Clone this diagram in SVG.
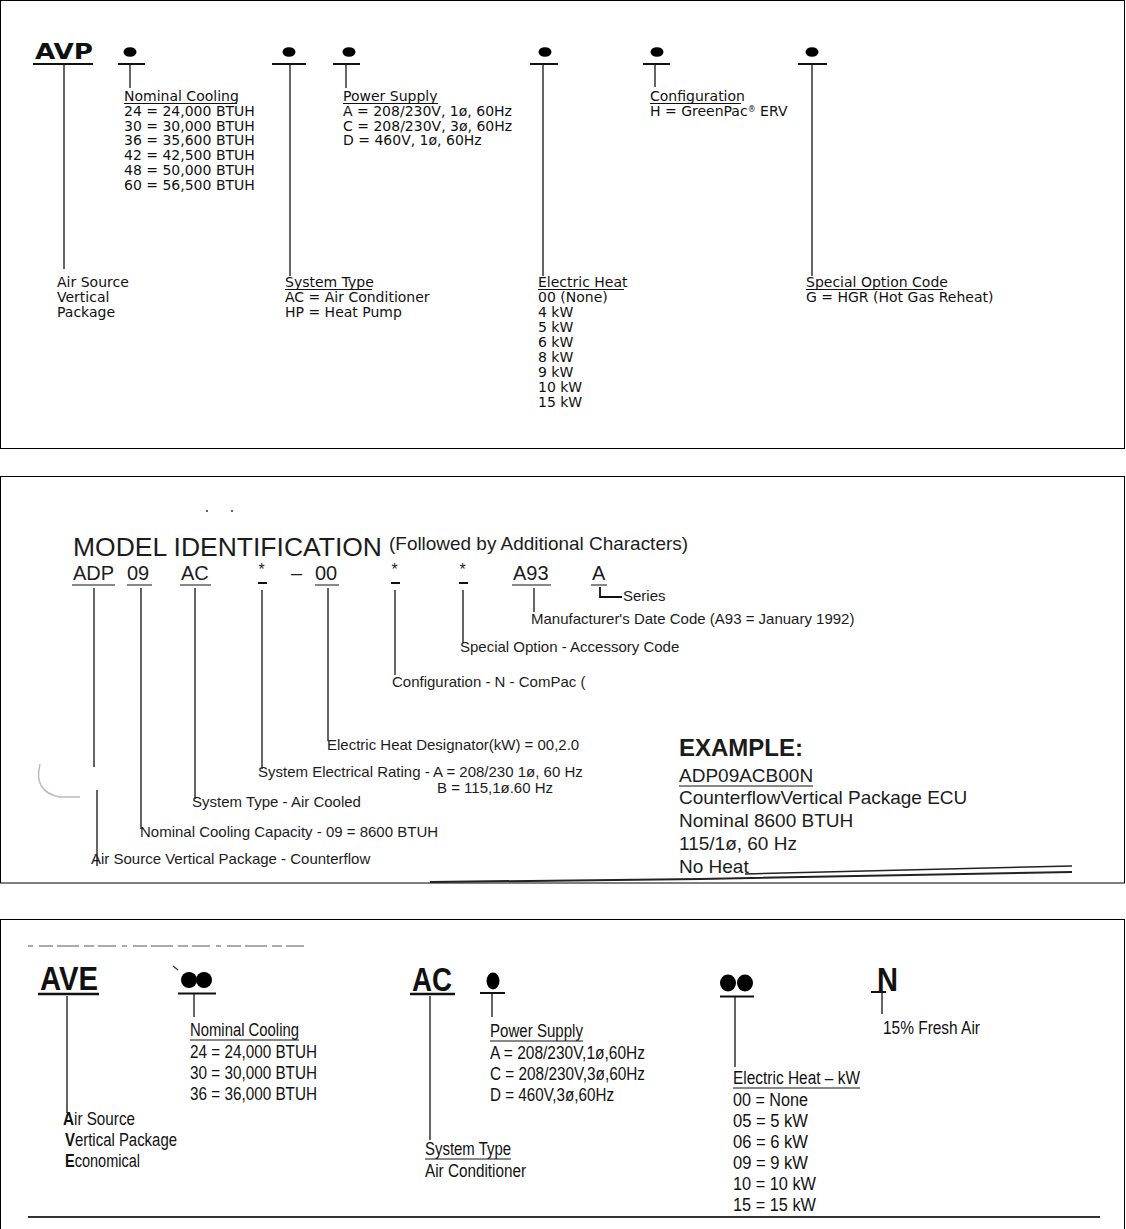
<svg xmlns="http://www.w3.org/2000/svg" width="1126" height="1229" viewBox="0 0 1126 1229">
<style>
.frame{fill:#fff;stroke:#000;stroke-width:1}
.p1{font-family:"DejaVu Sans",Verdana,sans-serif;font-size:14px;fill:#111}
.p1b{font-family:"DejaVu Sans",Verdana,sans-serif;font-size:21px;font-weight:bold;fill:#111}
.p2{font-family:"Liberation Sans",Arial,sans-serif;font-size:15px;fill:#1c1c1c}
.p2t{font-family:"Liberation Sans",Arial,sans-serif;font-size:26px;fill:#1c1c1c}
.p2s{font-family:"Liberation Sans",Arial,sans-serif;font-size:19px;fill:#1c1c1c}
.p2star{font-family:"Liberation Sans",Arial,sans-serif;font-size:16px;fill:#1c1c1c}
.p2c{font-family:"Liberation Sans",Arial,sans-serif;font-size:20px;fill:#1c1c1c}
.p2e{font-family:"Liberation Sans",Arial,sans-serif;font-size:19px;fill:#1c1c1c}
.p2h{font-family:"Liberation Sans",Arial,sans-serif;font-size:24px;font-weight:bold;fill:#1c1c1c}
.p3{font-family:"Liberation Sans",Arial,sans-serif;font-size:18px;fill:#111}
.p3b{font-family:"Liberation Sans",Arial,sans-serif;font-size:33px;font-weight:bold;fill:#111}
.ln{stroke:#111;stroke-width:1.3;fill:none}
.ul{stroke:#111;stroke-width:1;fill:none}
.bar{stroke:#111;stroke-width:2;fill:none}
.dot{fill:#000}
</style>

<!-- frames -->
<rect class="frame" x="0.5" y="0.5" width="1124" height="448"/>
<rect class="frame" x="0.5" y="476.5" width="1124" height="406.5"/>
<rect class="frame" x="0.5" y="919.5" width="1124" height="1308"/>

<!-- ================= PANEL 1 ================= -->
<g id="p1-connectors">
  <line class="ln" x1="64" y1="65" x2="64" y2="269"/>
  <line class="ln" x1="130" y1="65" x2="130" y2="88"/>
  <line class="ln" x1="290" y1="65" x2="290" y2="276"/>
  <line class="ln" x1="346" y1="65" x2="346" y2="88"/>
  <line class="ln" x1="543" y1="65" x2="543" y2="276"/>
  <line class="ln" x1="655" y1="65" x2="655" y2="87"/>
  <line class="ln" x1="812" y1="65" x2="812" y2="276"/>
</g>

<g id="p1-avp">
  <text class="p1b" x="35" y="59" textLength="58" lengthAdjust="spacingAndGlyphs">AVP</text>
  <line class="bar" x1="33" y1="64" x2="93" y2="64"/>
</g>

<g id="p1-cooling">
  <ellipse class="dot" cx="130" cy="52" rx="6.5" ry="4.8"/>
  <line class="bar" x1="118" y1="64" x2="145" y2="64"/>
  <text class="p1" x="124" y="101">Nominal Cooling</text>
  <line class="ul" x1="124" y1="103.5" x2="237" y2="103.5"/>
  <text class="p1" x="124" y="115.8">24 = 24,000 BTUH</text>
  <text class="p1" x="124" y="130.6">30 = 30,000 BTUH</text>
  <text class="p1" x="124" y="145.4">36 = 35,600 BTUH</text>
  <text class="p1" x="124" y="160.2">42 = 42,500 BTUH</text>
  <text class="p1" x="124" y="175">48 = 50,000 BTUH</text>
  <text class="p1" x="124" y="189.8">60 = 56,500 BTUH</text>
</g>

<g id="p1-systype">
  <ellipse class="dot" cx="289" cy="52" rx="6.5" ry="4.8"/>
  <line class="bar" x1="272" y1="64" x2="306" y2="64"/>
  <text class="p1" x="285" y="287">System Type</text>
  <line class="ul" x1="285" y1="289.5" x2="372" y2="289.5"/>
  <text class="p1" x="285" y="302">AC = Air Conditioner</text>
  <text class="p1" x="285" y="317">HP = Heat Pump</text>
</g>

<g id="p1-power">
  <ellipse class="dot" cx="349" cy="52" rx="6.5" ry="4.8"/>
  <line class="bar" x1="333" y1="64" x2="360" y2="64"/>
  <text class="p1" x="343" y="101">Power Supply</text>
  <line class="ul" x1="343" y1="103.5" x2="438" y2="103.5"/>
  <text class="p1" x="343" y="115.8">A = 208/230V, 1ø, 60Hz</text>
  <text class="p1" x="343" y="130.6">C = 208/230V, 3ø, 60Hz</text>
  <text class="p1" x="343" y="145.4">D = 460V, 1ø, 60Hz</text>
</g>

<g id="p1-heat">
  <ellipse class="dot" cx="545" cy="52" rx="6.5" ry="4.8"/>
  <line class="bar" x1="530" y1="64" x2="558" y2="64"/>
  <text class="p1" x="538" y="287">Electric Heat</text>
  <line class="ul" x1="538" y1="289.5" x2="624" y2="289.5"/>
  <text class="p1" x="538" y="302">00 (None)</text>
  <text class="p1" x="538" y="317">4 kW</text>
  <text class="p1" x="538" y="332">5 kW</text>
  <text class="p1" x="538" y="347">6 kW</text>
  <text class="p1" x="538" y="362">8 kW</text>
  <text class="p1" x="538" y="377">9 kW</text>
  <text class="p1" x="538" y="392">10 kW</text>
  <text class="p1" x="538" y="407">15 kW</text>
</g>

<g id="p1-config">
  <ellipse class="dot" cx="657" cy="52" rx="6.5" ry="4.8"/>
  <line class="bar" x1="643" y1="64" x2="670" y2="64"/>
  <text class="p1" x="650" y="101">Configuration</text>
  <line class="ul" x1="650" y1="103.5" x2="741" y2="103.5"/>
  <text class="p1" x="650" y="115.8">H = GreenPac<tspan style="font-size:8px" dy="-4">®</tspan><tspan dy="4"> ERV</tspan></text>
</g>

<g id="p1-option">
  <ellipse class="dot" cx="812" cy="52" rx="6.5" ry="4.8"/>
  <line class="bar" x1="798" y1="64" x2="827" y2="64"/>
  <text class="p1" x="806" y="287">Special Option Code</text>
  <line class="ul" x1="806" y1="289.5" x2="943" y2="289.5"/>
  <text class="p1" x="806" y="302">G = HGR (Hot Gas Reheat)</text>
</g>

<g id="p1-airsource">
  <text class="p1" x="57" y="287">Air Source</text>
  <text class="p1" x="57" y="302">Vertical</text>
  <text class="p1" x="57" y="317">Package</text>
</g>

<!-- ================= PANEL 2 ================= -->
<g id="p2-artifacts">
  <circle cx="207" cy="511" r="1" fill="#333"/>
  <circle cx="232" cy="511" r="1" fill="#333"/>
  <path d="M 40 764 Q 33 792 60 797 L 80 797" stroke="#bbb" stroke-width="1.5" fill="none"/>
  <path d="M 430 882 L 700 879 L 1072 872" stroke="#222" stroke-width="2" fill="none"/>
  <path d="M 745 874 L 1072 866" stroke="#222" stroke-width="1.5" fill="none"/>
</g>

<g id="p2-title">
  <text class="p2t" x="73" y="556" textLength="309" lengthAdjust="spacingAndGlyphs">MODEL IDENTIFICATION</text>
  <text class="p2s" x="389" y="550" textLength="299" lengthAdjust="spacingAndGlyphs">(Followed by Additional Characters)</text>
</g>

<g id="p2-code">
  <text class="p2c" x="73" y="580">ADP</text>
  <line class="ul" x1="72" y1="585" x2="115" y2="585" stroke-width="1.5"/>
  <text class="p2c" x="127" y="580">09</text>
  <line class="ul" x1="127" y1="585" x2="152" y2="585" stroke-width="1.5"/>
  <text class="p2c" x="181" y="580">AC</text>
  <line class="ul" x1="180" y1="585" x2="211" y2="585" stroke-width="1.5"/>
  <text class="p2star" x="258.5" y="575">*</text>
  <line class="bar" x1="258" y1="583" x2="267" y2="583"/>
  <text class="p2c" x="291" y="580">–</text>
  <text class="p2c" x="315" y="580">00</text>
  <line class="ul" x1="315" y1="585" x2="339" y2="585" stroke-width="1.5"/>
  <text class="p2star" x="391.5" y="575">*</text>
  <line class="bar" x1="391" y1="583" x2="400" y2="583"/>
  <text class="p2star" x="459.5" y="575">*</text>
  <line class="bar" x1="459" y1="583" x2="468" y2="583"/>
  <text class="p2c" x="513" y="580">A93</text>
  <line class="ul" x1="512" y1="585" x2="551" y2="585" stroke-width="1.5"/>
  <text class="p2c" x="592" y="580">A</text>
  <line class="ul" x1="591" y1="585" x2="607" y2="585" stroke-width="1.5"/>
</g>

<g id="p2-connectors">
  <line class="ln" x1="94" y1="588" x2="94" y2="767"/>
  <line class="ln" x1="97" y1="790" x2="97" y2="866"/>
  <line class="ln" x1="141" y1="588" x2="141" y2="829"/>
  <line class="ln" x1="195" y1="588" x2="195" y2="799"/>
  <line class="ln" x1="262" y1="590" x2="262" y2="769"/>
  <line class="ln" x1="328" y1="588" x2="328" y2="741"/>
  <line class="ln" x1="395" y1="590" x2="395" y2="675"/>
  <line class="ln" x1="463" y1="590" x2="463" y2="643"/>
  <line class="ln" x1="534" y1="588" x2="534" y2="612"/>
  <path d="M 600 587 L 600 597 L 622 597" stroke="#111" stroke-width="1.8" fill="none"/>
</g>

<g id="p2-series"><text class="p2" x="623" y="601">Series</text></g>
<g id="p2-date"><text class="p2" x="531" y="624">Manufacturer's Date Code (A93 = January 1992)</text></g>
<g id="p2-special"><text class="p2" x="460" y="652">Special Option - Accessory Code</text></g>
<g id="p2-config"><text class="p2" x="392" y="687">Configuration - N - ComPac (</text></g>
<g id="p2-heat"><text class="p2" x="327" y="750">Electric Heat Designator(kW) = 00,2.0</text></g>
<g id="p2-elec">
  <text class="p2" x="258" y="777">System Electrical Rating - A = 208/230 1ø, 60 Hz</text>
  <text class="p2" x="437" y="793">B = 115,1ø.60 Hz</text>
</g>
<g id="p2-systype"><text class="p2" x="192" y="807">System Type - Air Cooled</text></g>
<g id="p2-cooling"><text class="p2" x="140" y="837">Nominal Cooling Capacity - 09 = 8600 BTUH</text></g>
<g id="p2-airsource"><text class="p2" x="91" y="864">Air Source Vertical Package - Counterflow</text></g>

<g id="p2-example">
  <text class="p2h" x="679" y="756">EXAMPLE:</text>
  <text class="p2e" x="679" y="782">ADP09ACB00N</text>
  <line class="ul" x1="679" y1="786" x2="813" y2="786" stroke-width="1.5"/>
  <text class="p2e" x="679" y="804">CounterflowVertical Package ECU</text>
  <text class="p2e" x="679" y="827">Nominal 8600 BTUH</text>
  <text class="p2e" x="679" y="850">115/1ø, 60 Hz</text>
  <text class="p2e" x="679" y="873">No Heat</text>
</g>

<!-- ================= PANEL 3 ================= -->
<g id="p3-artifacts">
  <line x1="28" y1="946" x2="305" y2="946" stroke="#aaa" stroke-width="2" stroke-dasharray="5 6 14 4 22 5 10 4 18 6"/>
  <line x1="28" y1="1217" x2="1100" y2="1217" stroke="#333" stroke-width="2"/>
</g>

<g id="p3-connectors">
  <line class="ln" x1="67" y1="996" x2="67" y2="1113"/>
  <line class="ln" x1="194" y1="994" x2="194" y2="1017"/>
  <line class="ln" x1="430" y1="996" x2="430" y2="1140"/>
  <line class="ln" x1="492" y1="994" x2="492" y2="1017"/>
  <line class="ln" x1="735" y1="997" x2="735" y2="1067"/>
  <line class="ln" x1="882" y1="993" x2="882" y2="1014"/>
</g>

<g id="p3-ave">
  <text class="p3b" x="40" y="990" textLength="58" lengthAdjust="spacingAndGlyphs">AVE</text>
  <line x1="38" y1="994" x2="99" y2="994" stroke="#111" stroke-width="2.5"/>
</g>
<g id="p3-airsource">
  <text class="p3" x="63" y="1125" textLength="72" lengthAdjust="spacingAndGlyphs"><tspan style="font-weight:bold">A</tspan>ir Source</text>
  <text class="p3" x="65" y="1146" textLength="112" lengthAdjust="spacingAndGlyphs"><tspan style="font-weight:bold">V</tspan>ertical Package</text>
  <text class="p3" x="65" y="1167" textLength="75" lengthAdjust="spacingAndGlyphs"><tspan style="font-weight:bold">E</tspan>conomical</text>
</g>

<g id="p3-cooling">
  <line x1="173" y1="966" x2="178" y2="970" stroke="#333" stroke-width="1.2"/>
  <circle class="dot" cx="189" cy="980" r="8"/>
  <circle class="dot" cx="204" cy="980" r="8"/>
  <line class="bar" x1="178" y1="993.5" x2="216" y2="993.5"/>
  <text class="p3" x="190" y="1036" textLength="109" lengthAdjust="spacingAndGlyphs">Nominal Cooling</text>
  <line class="ul" x1="190" y1="1040" x2="299" y2="1040"/>
  <text class="p3" x="190" y="1058" textLength="127" lengthAdjust="spacingAndGlyphs">24 = 24,000 BTUH</text>
  <text class="p3" x="190" y="1079" textLength="127" lengthAdjust="spacingAndGlyphs">30 = 30,000 BTUH</text>
  <text class="p3" x="190" y="1100" textLength="127" lengthAdjust="spacingAndGlyphs">36 = 36,000 BTUH</text>
</g>

<g id="p3-ac">
  <text class="p3b" x="412" y="991" textLength="40" lengthAdjust="spacingAndGlyphs">AC</text>
  <line x1="410" y1="994" x2="455" y2="994" stroke="#111" stroke-width="2.5"/>
</g>
<g id="p3-systype">
  <text class="p3" x="425" y="1155" textLength="86" lengthAdjust="spacingAndGlyphs">System Type</text>
  <line class="ul" x1="425" y1="1159" x2="511" y2="1159"/>
  <text class="p3" x="425" y="1177" textLength="101" lengthAdjust="spacingAndGlyphs">Air Conditioner</text>
</g>

<g id="p3-power">
  <ellipse class="dot" cx="493" cy="981" rx="6.5" ry="8.5"/>
  <line class="bar" x1="480" y1="993" x2="505" y2="993"/>
  <text class="p3" x="490" y="1037" textLength="93" lengthAdjust="spacingAndGlyphs">Power Supply</text>
  <line class="ul" x1="490" y1="1041" x2="583" y2="1041"/>
  <text class="p3" x="490" y="1059" textLength="155" lengthAdjust="spacingAndGlyphs">A = 208/230V,1ø,60Hz</text>
  <text class="p3" x="490" y="1080" textLength="155" lengthAdjust="spacingAndGlyphs">C = 208/230V,3ø,60Hz</text>
  <text class="p3" x="490" y="1101" textLength="124" lengthAdjust="spacingAndGlyphs">D = 460V,3ø,60Hz</text>
</g>

<g id="p3-heat">
  <ellipse class="dot" cx="728" cy="983" rx="8" ry="8.5"/>
  <ellipse class="dot" cx="745" cy="983" rx="8" ry="8.5"/>
  <line class="bar" x1="720" y1="996.5" x2="754" y2="996.5"/>
  <text class="p3" x="733" y="1084" textLength="127" lengthAdjust="spacingAndGlyphs">Electric Heat – kW</text>
  <line class="ul" x1="733" y1="1088" x2="860" y2="1088"/>
  <text class="p3" x="733" y="1106" textLength="75" lengthAdjust="spacingAndGlyphs">00 = None</text>
  <text class="p3" x="733" y="1127" textLength="75" lengthAdjust="spacingAndGlyphs">05 = 5 kW</text>
  <text class="p3" x="733" y="1148" textLength="75" lengthAdjust="spacingAndGlyphs">06 = 6 kW</text>
  <text class="p3" x="733" y="1169" textLength="75" lengthAdjust="spacingAndGlyphs">09 = 9 kW</text>
  <text class="p3" x="733" y="1190" textLength="83" lengthAdjust="spacingAndGlyphs">10 = 10 kW</text>
  <text class="p3" x="733" y="1211" textLength="83" lengthAdjust="spacingAndGlyphs">15 = 15 kW</text>
</g>

<g id="p3-n">
  <text class="p3b" x="877" y="991" textLength="21" lengthAdjust="spacingAndGlyphs">N</text>
  <line x1="871" y1="992" x2="886" y2="992" stroke="#111" stroke-width="2"/>
  <text class="p3" x="883" y="1034" textLength="97" lengthAdjust="spacingAndGlyphs">15% Fresh Air</text>
</g>
</svg>
